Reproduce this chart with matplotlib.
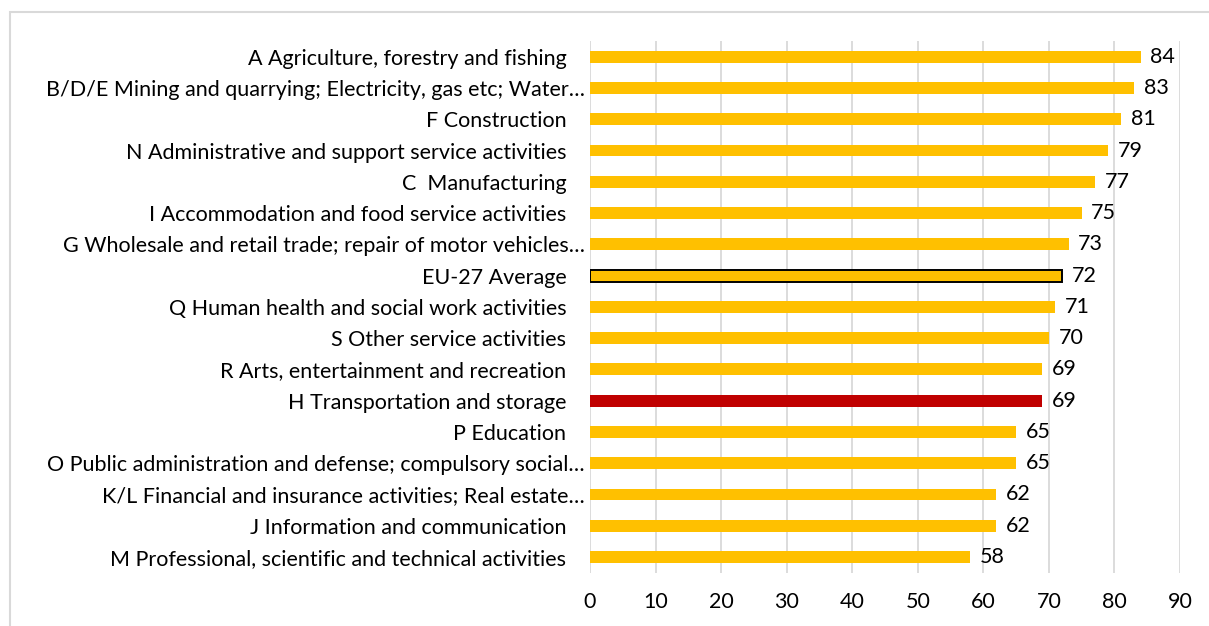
import matplotlib
matplotlib.use("Agg")
import matplotlib.pyplot as plt
from matplotlib.patches import Rectangle
from matplotlib.transforms import ScaledTranslation

plt.rcParams['font.family'] = ['Lato', 'DejaVu Sans']

categories = [
    "A Agriculture, forestry and fishing",
    "B/D/E Mining and quarrying; Electricity, gas etc; Water…",
    "F Construction",
    "N Administrative and support service activities",
    "C  Manufacturing",
    "I Accommodation and food service activities",
    "G Wholesale and retail trade; repair of motor vehicles…",
    "EU-27 Average",
    "Q Human health and social work activities",
    "S Other service activities",
    "R Arts, entertainment and recreation",
    "H Transportation and storage",
    "P Education",
    "O Public administration and defense; compulsory social…",
    "K/L Financial and insurance activities; Real estate…",
    "J Information and communication",
    "M Professional, scientific and technical activities",
]
values = [84, 83, 81, 79, 77, 75, 73, 72, 71, 70, 69, 69, 65, 65, 62, 62, 58]
x_ticks = [0, 10, 20, 30, 40, 50, 60, 70, 80, 90]

GOLD = "#FFC000"
RED = "#C00000"
GRID = "#D9D9D9"
FS = 15.5

fig = plt.figure(figsize=(12.09, 6.26), dpi=100)
ax = fig.add_axes([0.488, 0.0853, 0.488, 0.849])

# chart-area frame (open on the right and bottom)
fig.patches.append(Rectangle((10 / 1209, -0.1), 1.2, 1 - 12 / 626 + 0.1,
                             transform=fig.transFigure, fill=False,
                             edgecolor=GRID, linewidth=1.5, zorder=0))

ypos = list(range(len(categories)))
colors = []
edges = []
for c in categories:
    if c.startswith("H Transportation"):
        colors.append(RED)
    else:
        colors.append(GOLD)
    edges.append("black" if c == "EU-27 Average" else "none")

ax.barh(ypos, values, height=0.38, color=colors, edgecolor=edges,
        linewidth=1.4, zorder=3)

for y, v in zip(ypos, values):
    ax.annotate(f"{v}", xy=(v, y), xytext=(7, 0), textcoords="offset points",
                va="center", ha="left", fontsize=FS, color="#000000")

ax.set_ylim(len(categories) - 0.5, -0.5)
ax.set_xlim(0, 90)
ax.set_xticks(x_ticks)
ax.set_xticklabels([str(t) for t in x_ticks], fontsize=FS)
ax.set_yticks(ypos)
ax.set_yticklabels(categories, fontsize=FS)
ax.tick_params(axis="y", length=0, pad=17)
ax.tick_params(axis="x", length=0, pad=14)

# truncated labels sit a bit closer to the axis
for lab in ax.get_yticklabels():
    if lab.get_text().endswith("…"):
        lab.set_transform(lab.get_transform() +
                          ScaledTranslation(13 / 72, 0, fig.dpi_scale_trans))

ax.grid(axis="x", color=GRID, linewidth=1.3, zorder=0)
for s in ax.spines.values():
    s.set_visible(False)

fig.savefig("out.png", dpi=100)
